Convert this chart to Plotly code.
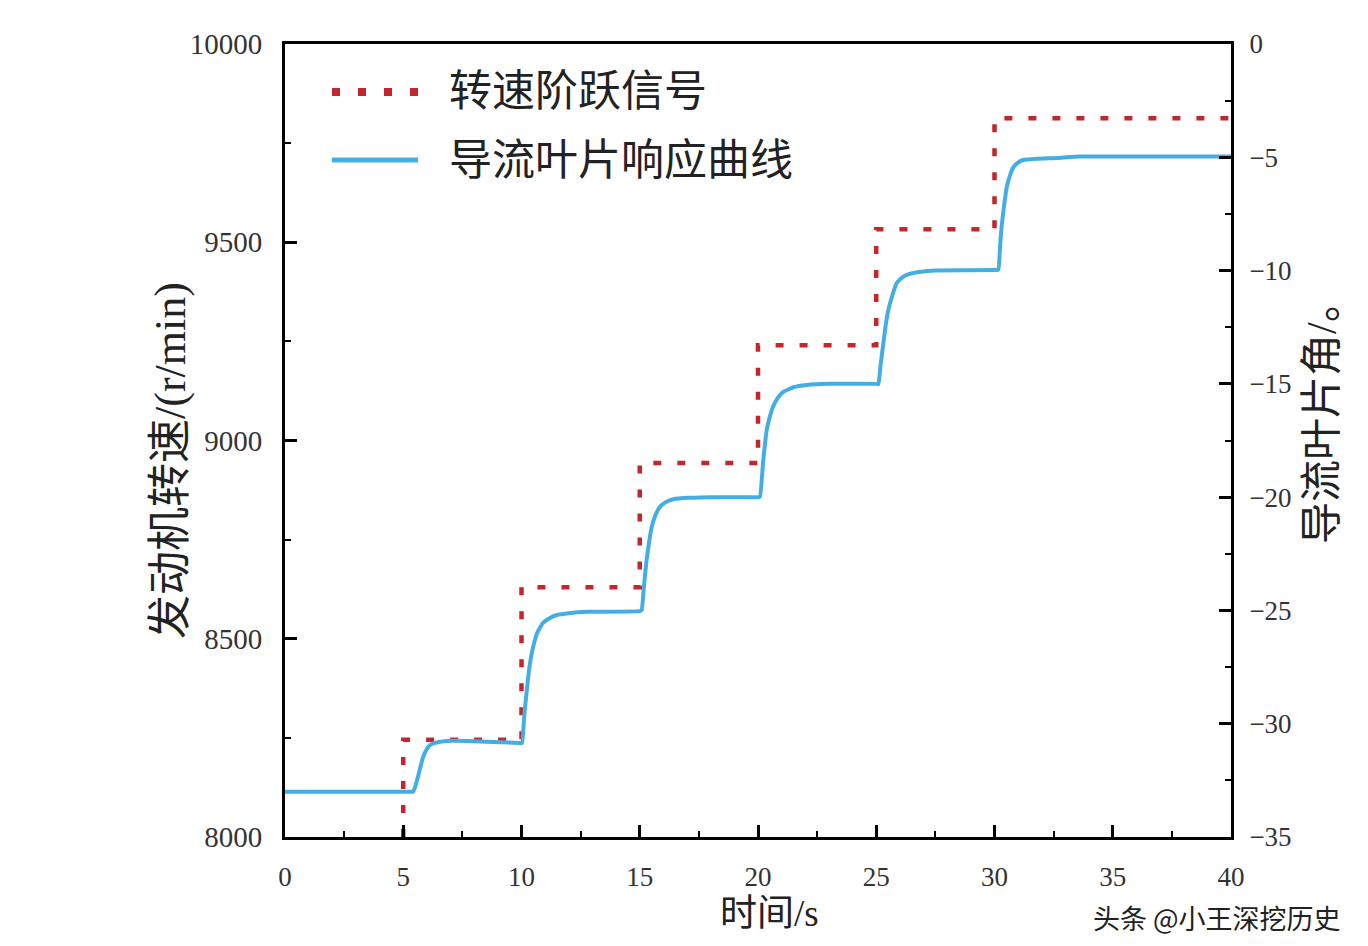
import plotly.graph_objects as go

# ---- data ----
# step signal: at each time in step_t the speed jumps to the next value
step_t = [5, 10, 15, 20, 25, 30, 40]
step_speed = [8000, 8245, 8630, 8943, 9240, 9533, 9813]

# guide-vane response (deg)
vane_t = [0, 5.30, 5.41, 5.50, 5.62, 5.73, 5.84, 5.98, 6.13, 6.40, 6.85, 7.70, 9.94,
          10.02, 10.12, 10.27, 10.38, 10.49, 10.68, 10.91, 11.20, 11.50, 12.00, 12.77, 15.00,
          15.08, 15.18, 15.29, 15.40, 15.51, 15.68, 15.86, 16.10, 16.42, 17.10, 18.11, 20.00,
          20.08, 20.22, 20.37, 20.50, 20.63, 20.83, 21.06, 21.50, 22.07, 23.00, 25.03,
          25.09, 25.19, 25.30, 25.40, 25.51, 25.68, 25.86, 26.10, 26.40, 26.90, 27.50, 30.00,
          30.16, 30.23, 30.30, 30.41, 30.52, 30.65, 30.78, 30.98, 31.20, 31.80, 32.64, 33.60, 40.00]
vane_angle = [-33.0, -33.0, -33.0, -32.8, -32.35, -31.9, -31.47, -31.15, -30.94, -30.83, -30.76, -30.76, -30.85,
              -30.85, -29.6, -28.07, -27.2, -26.61, -25.95, -25.55, -25.33, -25.20, -25.12, -25.06, -25.03,
              -24.98, -23.9, -22.77, -21.95, -21.30, -20.75, -20.42, -20.22, -20.09, -20.03, -20.00, -20.00,
              -19.99, -18.4, -17.03, -16.45, -16.02, -15.63, -15.36, -15.15, -15.05, -15.00, -15.00,
              -15.02, -14.1, -13.21, -12.4, -11.74, -11.1, -10.56, -10.3, -10.15, -10.05, -10.00, -9.97,
              -9.97, -9.0, -8.06, -7.1, -6.30, -5.82, -5.47, -5.25, -5.12, -5.06, -5.03, -4.97, -4.96]

x_ticks = [0, 5, 10, 15, 20, 25, 30, 35, 40]
left_ticks = [8000, 8500, 9000, 9500, 10000]
left_tick_text = ["8000", "8500", "9000", "9500", "10000"]
right_ticks = [0, -5, -10, -15, -20, -25, -30, -35]

series_names = ["转速阶跃信号", "导流叶片响应曲线"]
x_title = "时间/s"
y_title = "发动机转速/(r/min)"
y2_title = "导流叶片角/。"

RED = "#c4262b"
BLUE = "#44aee4"
FONT = "Liberation Serif, Noto Sans CJK SC, serif"
TXT = "#222"

fig = go.Figure()
fig.add_trace(go.Scatter(
    x=step_t, y=step_speed, mode="lines", line_shape="vh",
    line=dict(color=RED, width=4.5, dash="8px,16px"),
    name=series_names[0], showlegend=False, yaxis="y"))
fig.add_trace(go.Scatter(
    x=vane_t, y=vane_angle, mode="lines", line_shape="spline",
    line=dict(color=BLUE, width=4, smoothing=0.4),
    name=series_names[1], showlegend=False, yaxis="y2"))

axis_common = dict(showline=True, linecolor="black", linewidth=3,
                   ticks="inside", tickcolor="black", tickwidth=2.5,
                   ticklen=12, showgrid=False, zeroline=False)
minor_common = dict(ticks="inside", ticklen=6, tickwidth=2, tickcolor="black")

# page has an 8px body margin; figure is sized to sit inside the window
fig.update_layout(
    width=1352, height=930,
    paper_bgcolor="white", plot_bgcolor="white",
    margin=dict(l=277, r=129, t=36, b=101),
    font=dict(family=FONT, color=TXT),
    xaxis=dict(range=[0, 40], tickvals=x_ticks, mirror=True,
               minor=dict(dtick=2.5, **minor_common),
               tickfont=dict(family=FONT, size=27, color="#333"),
               ticklabelstandoff=14, **axis_common),
    yaxis=dict(range=[8000, 10000], tickvals=left_ticks, ticktext=left_tick_text,
               minor=dict(dtick=250, **minor_common),
               tickfont=dict(family=FONT, size=29, color="#333"),
               ticklabelstandoff=14, **axis_common),
    yaxis2=dict(range=[-35, 0], tickvals=right_ticks, overlaying="y", side="right",
                minor=dict(dtick=2.5, **minor_common),
                tickfont=dict(family=FONT, size=27, color="#333"),
                ticklabelstandoff=10, **axis_common),
)

# axis titles placed as in the reference
fig.add_annotation(xref="paper", yref="paper", x=0.512, y=-0.097, text=x_title,
                   showarrow=False, xanchor="center", yanchor="middle",
                   font=dict(family=FONT, size=37, color=TXT))
fig.add_annotation(xref="paper", yref="paper", x=-0.1216, y=0.4754, text=y_title,
                   showarrow=False, textangle=-90, xanchor="center", yanchor="middle",
                   font=dict(family=FONT, size=44, color=TXT))
fig.add_annotation(xref="paper", yref="paper", x=1.0962, y=0.5359, text=y2_title,
                   showarrow=False, textangle=-90, xanchor="center", yanchor="middle",
                   font=dict(family=FONT, size=42, color=TXT))

# legend drawn as paper-referenced samples
fig.add_shape(type="line", xref="paper", yref="paper", x0=0.0497, x1=0.1406,
              y0=0.9395, y1=0.9395, line=dict(color=RED, width=8, dash="8px,18px"))
fig.add_shape(type="line", xref="paper", yref="paper", x0=0.0497, x1=0.1406,
              y0=0.8537, y1=0.8537, line=dict(color=BLUE, width=5))
fig.add_annotation(xref="paper", yref="paper", x=0.171, y=0.9395, text=series_names[0],
                   showarrow=False, xanchor="left", yanchor="middle",
                   font=dict(family=FONT, size=43, color=TXT))
fig.add_annotation(xref="paper", yref="paper", x=0.171, y=0.8537, text=series_names[1],
                   showarrow=False, xanchor="left", yanchor="middle",
                   font=dict(family=FONT, size=43, color=TXT))

# watermark text from the image
fig.add_annotation(xref="paper", yref="paper", x=1.118, y=-0.102, text="头条 @小王深挖历史",
                   showarrow=False, xanchor="right", yanchor="middle",
                   font=dict(family="Noto Sans CJK SC", size=27, color=TXT))

fig.write_html("out.html")
